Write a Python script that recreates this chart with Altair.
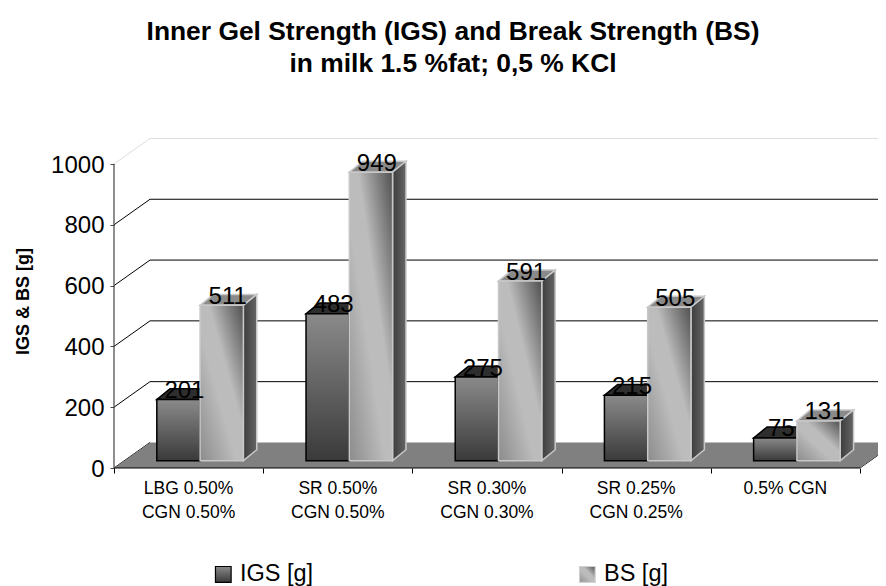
import altair as alt
import pandas as pd

categories = ["LBG 0.50%\nCGN 0.50%", "SR 0.50%\nCGN 0.50%", "SR 0.30%\nCGN 0.30%", "SR 0.25%\nCGN 0.25%", "0.5% CGN"]
igs_values = [201, 483, 275, 215, 75]
bs_values = [511, 949, 591, 505, 131]
y_ticks = [0, 200, 400, 600, 800, 1000]
x_ticks = [0, 1, 2, 3, 4, 5]
legend_names = ["IGS [g]", "BS [g]"]

FONT = "Liberation Sans"
PLOT_W = 764
X_MAX = PLOT_W / 149.2
Y_MAX = 331 / 0.304
WALL_DX, WALL_DY = 0.2413, 84
BAR_DX, BAR_DY = 0.09, 36
BAR_BASE = 24
BAR_START, BAR_W = 0.287, 0.29

xs = alt.Scale(domain=[0, X_MAX], nice=False, zero=False)
ys = alt.Scale(domain=[0, Y_MAX], nice=False, zero=False)
x_axis = alt.Axis(values=x_ticks, labels=False, title=None, grid=False, domain=False,
                  tickSize=5, tickColor="#000000", zindex=1)
y_axis = alt.Axis(values=y_ticks, format="d", title="IGS & BS [g]", grid=False, domain=False,
                  tickSize=4, tickColor="#444444", labelFont=FONT, labelFontSize=24, labelOffset=1,
                  labelColor="#000000", labelPadding=6, titleFont=FONT, titleFontSize=18,
                  titleFontWeight="bold", titleColor="#000000", titleX=-82, titleY=164)
X = lambda f="x": alt.X(f, type="quantitative", scale=xs, axis=x_axis, stack=None)
Y = lambda f="y": alt.Y(f, type="quantitative", scale=ys, axis=y_axis, stack=None)


def grad(stops, x1=0, y1=0, x2=0, y2=1):
    return alt.Gradient(gradient="linear", x1=x1, y1=y1, x2=x2, y2=y2,
                        stops=[alt.GradientStop(offset=o, color=c) for o, c in stops])


def top_rows(x0, x1, v):
    top = v + BAR_BASE
    return [dict(id=x0, y=top, x=x0, x2=x1), dict(id=x0, y=top + BAR_DY, x=x0 + BAR_DX, x2=x1 + BAR_DX)]


def side_rows(x1, v):
    top = v + BAR_BASE
    return [dict(id=x1, x=x1, y=BAR_BASE, y2=top), dict(id=x1, x=x1 + BAR_DX, y=BAR_BASE + BAR_DY, y2=top + BAR_DY)]


def series(values, offset, front_fill, top_fill, side_fill, edge):
    tops, sides, fronts = [], [], []
    for k, v in enumerate(values):
        x0 = k + BAR_START + offset * BAR_W
        x1 = x0 + BAR_W
        tops += top_rows(x0, x1, v)
        sides += side_rows(x1, v)
        fronts.append(dict(x=x0, x2=x1, y=BAR_BASE, y2=v + BAR_BASE))
    props = dict(stroke=edge, strokeWidth=1.5)
    return [
        alt.Chart(pd.DataFrame(tops)).mark_area(orient="horizontal", fill=top_fill, **props).encode(
            y=Y(), x=X(), x2="x2", detail="id:N"),
        alt.Chart(pd.DataFrame(sides)).mark_area(orient="vertical", fill=side_fill, **props).encode(
            x=X(), y=Y(), y2="y2", detail="id:N"),
        alt.Chart(pd.DataFrame(fronts)).mark_rect(fill=front_fill, **props).encode(
            x=X(), x2="x2", y=Y(), y2="y2"),
    ]


igs_front = grad([(0, "#8a8a8a"), (1, "#3a3a3a")])
bs_front = grad([(0, "#8c8c8c"), (0.42, "#bcbcbc"), (0.6, "#bcbcbc"), (1, "#505050")], x1=0, y1=1, x2=1, y2=0)
bs_side = grad([(0, "#3c3c3c"), (1, "#666666")], x1=0, y1=0, x2=1, y2=0)

floor = alt.Chart(pd.DataFrame([
    dict(y=0, x=0, x2=5), dict(y=WALL_DY, x=WALL_DX, x2=5 + WALL_DX)
])).mark_area(orient="horizontal", fill="#808080").encode(y=Y(), x=X(), x2="x2")

grid_df = pd.DataFrame([dict(x=WALL_DX, x2=X_MAX, y=v + WALL_DY, c="#000000" if v < 1000 else "#dddddd")
                        for v in y_ticks if v > 0])
grid = alt.Chart(grid_df).mark_rule(strokeWidth=1).encode(x=X(), x2="x2", y=Y(), color=alt.Color("c:N", scale=None))

slant_rows = []
for v in y_ticks:
    slant_rows += [dict(id=v, x=0, y=v, c="#000000" if v < 1000 else "#dddddd"),
                   dict(id=v, x=WALL_DX, y=v + WALL_DY, c="#000000" if v < 1000 else "#dddddd")]
slant_rows += [dict(id=-1, x=5, y=0, c="#000000"), dict(id=-1, x=5 + WALL_DX, y=WALL_DY, c="#000000")]
slants = alt.Chart(pd.DataFrame(slant_rows)).mark_line(strokeWidth=1).encode(
    x=X(), y=Y(), detail="id:N", color=alt.Color("c:N", scale=None))

x_line = alt.Chart(pd.DataFrame([dict(x=0, x2=5, y=0)])).mark_rule(color="#000000", strokeWidth=1.2).encode(
    x=X(), x2="x2", y=Y())
y_line = alt.Chart(pd.DataFrame([dict(x=0, y=0, y2=1000)])).mark_rule(color="#444444", strokeWidth=1.2).encode(
    x=X(), y=Y(), y2="y2")

label_rows = []
for k, (a, b) in enumerate(zip(igs_values, bs_values)):
    label_rows.append(dict(x=k + BAR_START + 0.5 * BAR_W + 0.04, y=a + BAR_BASE, t=str(a)))
    label_rows.append(dict(x=k + BAR_START + 1.5 * BAR_W + 0.04, y=b + BAR_BASE, t=str(b)))
value_labels = alt.Chart(pd.DataFrame(label_rows)).mark_text(
    font=FONT, fontSize=24, color="#000000", baseline="alphabetic", align="center", dy=-1.5).encode(x=X(), y=Y(), text="t:N")

cat_df = pd.DataFrame([dict(x=k + 0.5, y=-70, t=c) for k, c in enumerate(categories)])
cat_labels = alt.Chart(cat_df).mark_text(
    font=FONT, fontSize=17.5, color="#000000", baseline="middle", align="center", lineBreak="\n", lineHeight=24
).encode(x=X(), y=Y(), text="t:N")

swatch_a = alt.Chart(pd.DataFrame([dict(x=0.68, x2=0.785, y=-324, y2=-376)])).mark_rect(
    fill=igs_front, stroke="#000000", strokeWidth=1.2).encode(x=X(), x2="x2", y=Y(), y2="y2")
swatch_b = alt.Chart(pd.DataFrame([dict(x=3.12, x2=3.225, y=-324, y2=-376)])).mark_rect(
    fill=bs_front, stroke="#d0d0d0", strokeWidth=1.2).encode(x=X(), x2="x2", y=Y(), y2="y2")
legend_text = alt.Chart(pd.DataFrame([dict(x=0.8445, y=-372, t=legend_names[0]), dict(x=3.284, y=-372, t=legend_names[1])])).mark_text(
    font=FONT, fontSize=23.5, color="#000000", baseline="alphabetic", align="left").encode(x=X(), y=Y(), text="t:N")

layers = [grid, slants, floor, x_line]
layers += series(igs_values, 0, igs_front, "#2e2e2e", "#3a3a3a", "#000000")
layers += series(bs_values, 1, bs_front, "#8a8a8a", bs_side, "#c8c8c8")
layers += [y_line, value_labels, cat_labels, swatch_a, swatch_b, legend_text]

chart = alt.layer(*layers).resolve_scale(x="shared", y="shared").properties(
    width=PLOT_W,
    height=331,
    padding={"left": 106, "top": 129, "right": 0, "bottom": 118},
    autosize=alt.AutoSizeParams(type="none"),
    title=alt.TitleParams(
        text=["Inner Gel Strength (IGS) and Break Strength (BS)", "in milk 1.5 %fat; 0,5 % KCl"],
        font=FONT, fontSize=26.4, fontWeight="bold", color="#000000", anchor="middle", dx=-43, offset=59, lineHeight=32,
    ),
).configure_view(stroke=None)

chart.save("out.html", embed_options={"renderer": "svg", "actions": False})
